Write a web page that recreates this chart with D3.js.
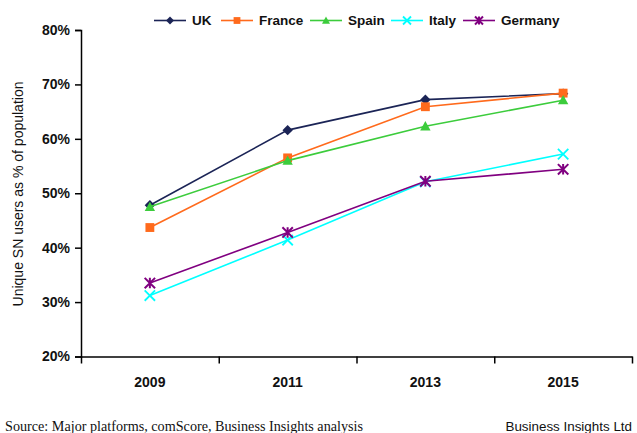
<!DOCTYPE html>
<html><head><meta charset="utf-8">
<script src="https://cdn.jsdelivr.net/npm/d3@7"></script>
<style>
body{margin:0;background:#fff;}
svg{display:block;}
</style></head>
<body>
<svg id="c" width="637" height="433"></svg>
<script>
const years = ["2009", "2011", "2013", "2015"];
const seriesNames = ["UK", "France", "Spain", "Italy", "Germany"];
const ukValues = [47.8, 61.6, 67.2, 68.3];
const franceValues = [43.7, 56.5, 65.9, 68.4];
const spainValues = [47.5, 56.0, 62.3, 67.1];
const italyValues = [31.2, 41.4, 52.1, 57.2];
const germanyValues = [33.5, 42.8, 52.2, 54.4];
const yTicks = [20, 30, 40, 50, 60, 70, 80];
const sourceText = "Source: Major platforms, comScore, Business Insights analysis";
const creditText = "Business Insights Ltd";
const yTitle = "Unique SN users as % of population";

const colors = ["#1b2456", "#ff6a1c", "#3ccc3c", "#00ffff", "#800080"];
const markers = ["diamond", "square", "triangle", "x", "asterisk"];
const seriesValues = [ukValues, franceValues, spainValues, italyValues, germanyValues];
const series = seriesNames.map((n, i) => ({name: n, values: seriesValues[i], color: colors[i], marker: markers[i]}));

const svg = d3.select("#c");
const L = 81, R = 632, T = 30, B = 356.5;
const x = d3.scaleBand().domain(years).range([L, R]);
const y = d3.scaleLinear().domain([20, 80]).range([B, T]);
const FONT = "Liberation Sans, Arial, sans-serif";

// Y axis
const ya = svg.append("g").attr("transform", `translate(${L},0)`)
  .call(d3.axisLeft(y).tickValues(yTicks).tickSize(6).tickPadding(5).tickFormat(d => d + "%"));
ya.selectAll("path,line").attr("stroke", "#000").attr("stroke-width", 1.5);
ya.selectAll("text").attr("font-family", FONT).attr("font-size", 14).attr("font-weight", "bold").attr("fill", "#111");

// X axis with ticks at band boundaries
const xb = d3.scaleLinear().domain([0, years.length]).range([L, R]);
const xa = svg.append("g").attr("transform", `translate(0,${B})`)
  .call(d3.axisBottom(xb).ticks(years.length).tickSize(7).tickFormat("").tickSizeOuter(0));
xa.selectAll("path,line").attr("stroke", "#000").attr("stroke-width", 1.5);
svg.append("g").selectAll("text").data(years).join("text")
  .attr("x", d => x(d) + x.bandwidth() / 2).attr("y", 386.5)
  .attr("text-anchor", "middle").attr("font-family", FONT).attr("font-size", 14)
  .attr("font-weight", "bold").attr("fill", "#111").text(d => d);

// Y title
svg.append("text").attr("transform", "translate(23,194) rotate(-90)")
  .attr("text-anchor", "middle").attr("font-family", FONT).attr("font-size", 14)
  .attr("fill", "#111").text(yTitle);

function drawMarker(g, type, color, s) {
  if (type === "diamond") {
    g.append("path").attr("d", `M0,${-s}L${s},0L0,${s}L${-s},0Z`).attr("fill", color);
  } else if (type === "square") {
    g.append("rect").attr("x", -s * 0.85).attr("y", -s * 0.85).attr("width", s * 1.7).attr("height", s * 1.7).attr("fill", color);
  } else if (type === "triangle") {
    g.append("path").attr("d", `M0,${-s}L${s},${s * 0.8}L${-s},${s * 0.8}Z`).attr("fill", color);
  } else if (type === "x") {
    g.append("path").attr("d", `M${-s},${-s}L${s},${s}M${-s},${s}L${s},${-s}`).attr("stroke", color).attr("stroke-width", 1.8);
  } else if (type === "asterisk") {
    g.append("path").attr("d", `M${-s},${-s}L${s},${s}M${-s},${s}L${s},${-s}M0,${-s}L0,${s}`).attr("stroke", color).attr("stroke-width", 2);
  }
}

const line = d3.line().x((d, i) => x(years[i]) + x.bandwidth() / 2).y(d => y(d));
series.forEach(s => {
  const g = svg.append("g");
  g.append("path").datum(s.values).attr("d", line).attr("fill", "none")
    .attr("stroke", s.color).attr("stroke-width", 1.6);
  s.values.forEach((v, i) => {
    const m = g.append("g").attr("transform", `translate(${x(years[i]) + x.bandwidth() / 2},${y(v)})`);
    drawMarker(m, s.marker, s.color, 5.2);
  });
});

// Legend
const legendX = [154, 221, 310, 391, 463];
const lg = svg.append("g");
series.forEach((s, i) => {
  const g = lg.append("g").attr("transform", `translate(${legendX[i]},20.5)`);
  g.append("line").attr("x1", 0).attr("x2", 32).attr("stroke", s.color).attr("stroke-width", 1.6);
  const m = g.append("g").attr("transform", "translate(16,0)");
  drawMarker(m, s.marker, s.color, 4);
  g.append("text").attr("x", 38).attr("y", 4.8).attr("font-family", FONT).attr("font-size", 13.5)
    .attr("font-weight", "bold").attr("fill", "#111").text(s.name);
});

// Footer
svg.append("text").attr("x", 5).attr("y", 431).attr("font-family", "Liberation Serif, Times New Roman, serif")
  .attr("font-size", 14).attr("textLength", 358).attr("lengthAdjust", "spacingAndGlyphs")
  .attr("fill", "#111").text(sourceText);
svg.append("text").attr("x", 632).attr("y", 431).attr("text-anchor", "end").attr("font-family", FONT)
  .attr("font-size", 13.4).attr("fill", "#111").text(creditText);
</script>
</body></html>
